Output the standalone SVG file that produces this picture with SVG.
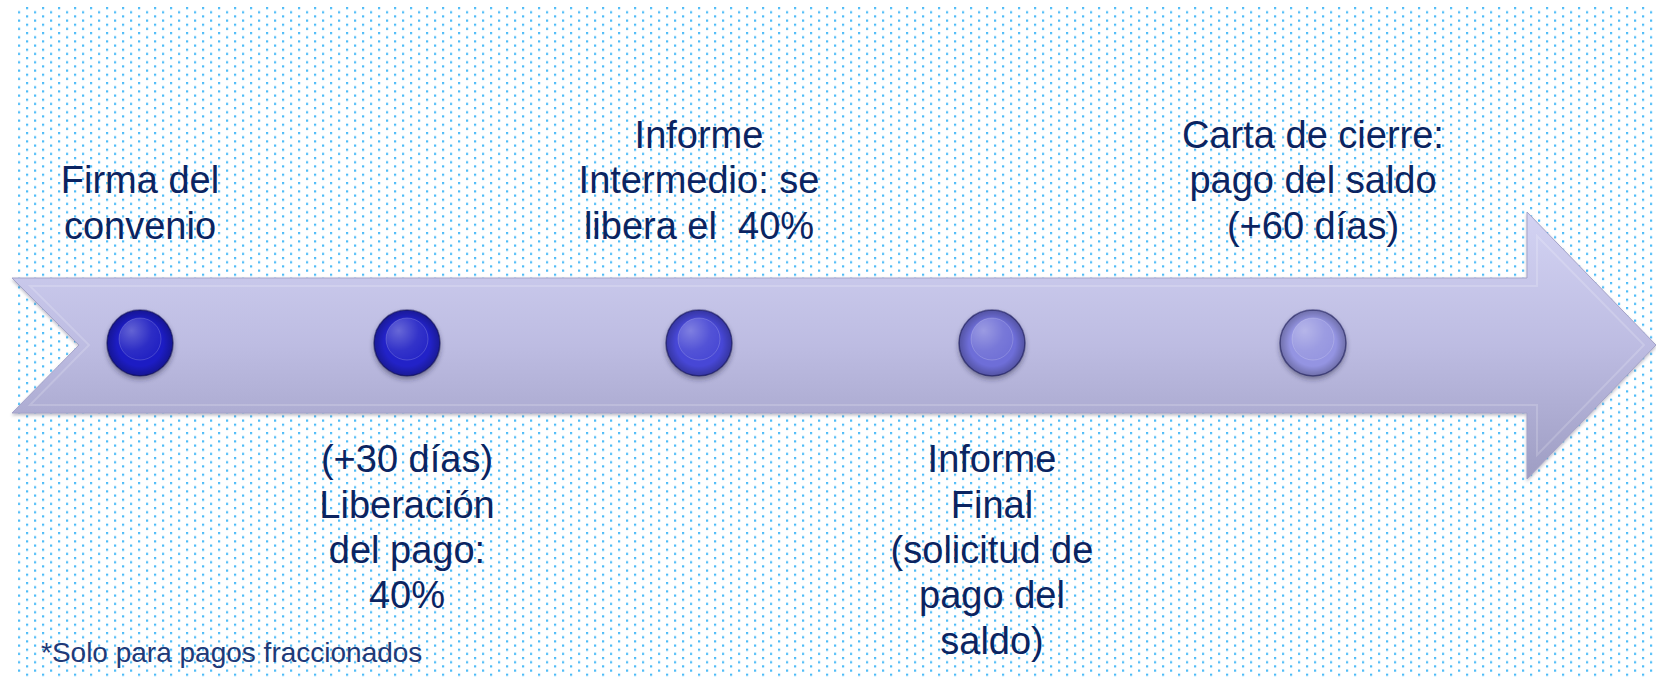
<svg xmlns="http://www.w3.org/2000/svg" width="1656" height="677" viewBox="0 0 1656 677">
<style>
.t{font-family:"Liberation Sans",Arial,sans-serif;font-size:38px;fill:#0b2461;text-anchor:middle}
.n{font-family:"Liberation Sans",Arial,sans-serif;font-size:28px;fill:#1f3a78}
.rim{stroke:#14145a;stroke-opacity:0.55;stroke-width:1.5}
.inner{stroke:#ffffff;stroke-opacity:0.18;stroke-width:1}
</style>
<defs>
<pattern id="dots" patternUnits="userSpaceOnUse" x="18" y="7" width="16" height="8.333">
<rect x="8" y="0" width="2.2" height="2.2" fill="#4fbcf7"/>
<rect x="0" y="4.17" width="2.2" height="2.2" fill="#4fbcf7"/>
</pattern>
<linearGradient id="arrowG" gradientUnits="userSpaceOnUse" x1="0" y1="212" x2="0" y2="479">
<stop offset="0" stop-color="#d3d3f3"/>
<stop offset="0.5" stop-color="#bdbce2"/>
<stop offset="1" stop-color="#9e9dc3"/>
</linearGradient>
<radialGradient id="hl" cx="0.3" cy="0.3" r="0.8">
<stop offset="0" stop-color="#ffffff" stop-opacity="0.3"/>
<stop offset="0.6" stop-color="#ffffff" stop-opacity="0.06"/>
<stop offset="1" stop-color="#ffffff" stop-opacity="0"/>
</radialGradient>
<radialGradient id="sh" cx="0.5" cy="0.5" r="0.5">
<stop offset="0.7" stop-color="#000000" stop-opacity="0"/>
<stop offset="1" stop-color="#000000" stop-opacity="0.25"/>
</radialGradient>
<filter id="ds" x="-30%" y="-30%" width="160%" height="170%">
<feDropShadow dx="0" dy="3" stdDeviation="2.5" flood-color="#202040" flood-opacity="0.45"/>
</filter>
<filter id="ads" x="-5%" y="-10%" width="110%" height="125%">
<feDropShadow dx="0" dy="2" stdDeviation="1.5" flood-color="#505070" flood-opacity="0.35"/>
</filter>
</defs>

<rect width="1656" height="677" fill="#ffffff"/>
<rect x="17" y="6" width="1639" height="671" fill="url(#dots)"/>

<g id="arrow">
<polygon filter="url(#ads)" points="12,278 1527,278 1527,212 1656,345 1527,479 1527,413 12,413 79,345" fill="url(#arrowG)" stroke="#a4a3c8" stroke-width="1"/>
<polygon points="30,286 1537,286 1537,236 1644,345 1537,455 1537,405 30,405 89,345" fill="none" stroke="#ffffff" stroke-opacity="0.18" stroke-width="2"/>
</g>

<g id="node1">
<circle cx="140" cy="343" r="33" fill="#1c1cc4" class="rim" filter="url(#ds)"/>
<circle cx="140" cy="343" r="33" fill="url(#sh)"/>
<circle cx="140" cy="339" r="21" fill="#2020c2" class="inner"/>
<circle cx="140" cy="339" r="21" fill="url(#hl)"/>
<text class="t" x="140" y="193">Firma del</text>
<text class="t" x="140" y="239">convenio</text>
</g>

<g id="node2">
<circle cx="407" cy="343" r="33" fill="#2222c8" class="rim" filter="url(#ds)"/>
<circle cx="407" cy="343" r="33" fill="url(#sh)"/>
<circle cx="407" cy="339" r="21" fill="#2626c6" class="inner"/>
<circle cx="407" cy="339" r="21" fill="url(#hl)"/>
<text class="t" x="407" y="472">(+30 días)</text>
<text class="t" x="407" y="518">Liberación</text>
<text class="t" x="407" y="563">del pago:</text>
<text class="t" x="407" y="608">40%</text>
</g>

<g id="node3">
<circle cx="699" cy="343" r="33" fill="#4646d6" class="rim" filter="url(#ds)"/>
<circle cx="699" cy="343" r="33" fill="url(#sh)"/>
<circle cx="699" cy="339" r="21" fill="#4848d4" class="inner"/>
<circle cx="699" cy="339" r="21" fill="url(#hl)"/>
<text class="t" x="699" y="148">Informe</text>
<text class="t" x="699" y="193">Intermedio: se</text>
<text class="t" x="699" y="239" xml:space="preserve">libera el  40%</text>
</g>

<g id="node4">
<circle cx="992" cy="343" r="33" fill="#6e6ed8" class="rim" filter="url(#ds)"/>
<circle cx="992" cy="343" r="33" fill="url(#sh)"/>
<circle cx="992" cy="339" r="21" fill="#7070d6" class="inner"/>
<circle cx="992" cy="339" r="21" fill="url(#hl)"/>
<text class="t" x="992" y="472">Informe</text>
<text class="t" x="992" y="518">Final</text>
<text class="t" x="992" y="563">(solicitud de</text>
<text class="t" x="992" y="608">pago del</text>
<text class="t" x="992" y="654">saldo)</text>
</g>

<g id="node5">
<circle cx="1313" cy="343" r="33" fill="#9494e2" class="rim" filter="url(#ds)"/>
<circle cx="1313" cy="343" r="33" fill="url(#sh)"/>
<circle cx="1313" cy="339" r="21" fill="#9696e0" class="inner"/>
<circle cx="1313" cy="339" r="21" fill="url(#hl)"/>
<text class="t" x="1313" y="148">Carta de cierre:</text>
<text class="t" x="1313" y="193">pago del saldo</text>
<text class="t" x="1313" y="239">(+60 días)</text>
</g>

<g id="connectors"></g>

<text class="n" x="41" y="662">*Solo para pagos fraccionados</text>
</svg>
